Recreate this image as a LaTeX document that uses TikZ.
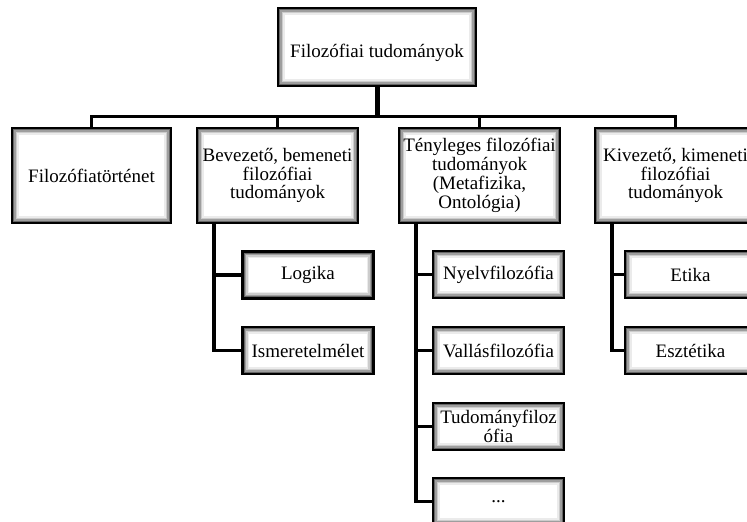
\documentclass[tikz,border=0pt]{standalone}
\usepackage{fontspec}
\setmainfont{Liberation Serif}
\usetikzlibrary{positioning}

\begin{document}
\begin{tikzpicture}
[x=1pt,y=-1pt,
 box/.style={draw=black,line width=2.6pt,fill=white,align=center,inner sep=1pt,
   font=\fontsize{19}{18.8}\selectfont,
   path picture={\foreach \d/\c in {1.5/60,3/38,4.5/20,6/8}
     {\draw[black!\c,line width=1.6pt] ([shift={(\d pt,\d pt)}]path picture bounding box.south west) rectangle ([shift={(-\d pt,-\d pt)}]path picture bounding box.north east);}}},
 big/.style={box,minimum width=161pt,minimum height=95pt},
 small/.style={box,minimum width=131pt,minimum height=47pt},
 link/.style={line width=3.6pt}]
\useasboundingbox (0,0) rectangle (747,522);
\clip (0,0) rectangle (747,522);

\node[box,minimum width=198pt,minimum height=78pt,text height=25pt] (root) at (377,47) {Filozófiai tudományok};

\node[box,minimum width=159pt,minimum height=95pt] (tort) at (91.5,175.5) {Filozófiatörténet};
\node[big] (bev) at (277.5,175.5) {Bevezető, bemeneti\\filozófiai\\tudományok};
\node[big] (teny) at (479.5,175.5) {Tényleges filozófiai\\tudományok\\(Metafizika,\\Ontológia)};
\node[big] (kiv) at (675.5,175.5) {Kivezető, kimeneti\\filozófiai\\tudományok};

\node[small] (logika) at (308,275) {Logika};
\node[small] (ismeret) at (308,350.5) {Ismeretelmélet};
\node[small] (nyelv) at (498.5,274.5) {Nyelvfilozófia};
\node[small] (vallas) at (498.5,350.5) {Vallásfilozófia};
\node[small] (tudfil) at (498.5,426.5) {Tudományfiloz\\ófia};
\node[small] (etc) at (498.5,501.5) {...};
\node[small] (etika) at (690.5,274.5) {Etika};
\node[small] (esztet) at (690.5,350.5) {Esztétika};

\coordinate (bus) at ([yshift=-29pt]root.south);
\draw[link,line width=5pt] (root.south) -- (bus);
\foreach \n in {tort,bev,teny,kiv}
  \draw[link] (bus) -| (\n.north);

\foreach \n in {logika,ismeret}
  \draw[link] ([xshift=18pt]bev.south west) |- (\n.west);
\foreach \n in {nyelv,vallas,tudfil,etc}
  \draw[link] ([xshift=18pt]teny.south west) |- (\n.west);
\foreach \n in {etika,esztet}
  \draw[link] ([xshift=18pt]kiv.south west) |- (\n.west);
\end{tikzpicture}
\end{document}
